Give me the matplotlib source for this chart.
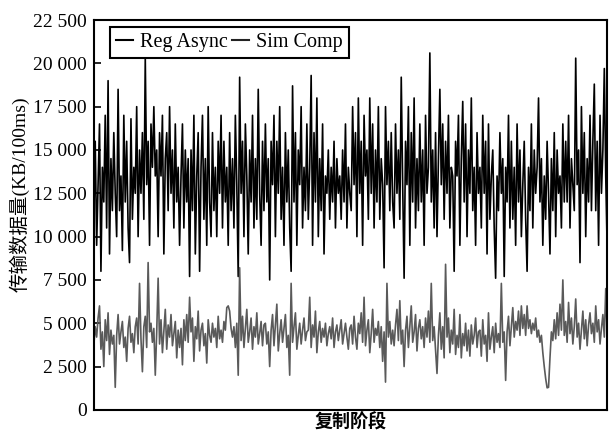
import matplotlib
matplotlib.use("Agg")
import matplotlib.pyplot as plt
from matplotlib.ticker import FuncFormatter
from matplotlib.lines import Line2D
import numpy as np

reg_async = [
    11000, 15500, 9500, 13000, 16500, 8000, 14000, 12000, 17000, 10500, 19000, 9000, 14500, 11500, 16000, 12500, 10000, 18500, 11500, 13500, 9200, 17000, 12000, 15500, 10500, 8500, 16800, 11000, 14000, 12500,
    17500, 10000, 15000, 12500, 16000, 11000, 20300, 13000, 15500, 9500, 16500, 14000, 17500, 13500, 15000, 10000, 16000, 13500, 17000, 9000, 14500, 16000, 11500, 17500, 12500, 15000, 10500, 16500, 12000, 14000,
    9500, 13500, 16500, 10500, 15000, 12000, 14500, 7700, 15000, 11500, 17000, 9000, 13500, 16000, 8000, 14000, 17000, 11000, 14500, 9500, 17500, 12000, 10000, 16000, 11500, 14000, 10000, 15500, 12500, 17000,
    10500, 15500, 12000, 14000, 9500, 16000, 11500, 14500, 10500, 17000, 13000, 7700, 19200, 12500, 15500, 10000, 16500, 13500, 9000, 15000, 12000, 17000, 10500, 14500, 11000, 18500, 12500, 9500, 15500, 11500,
    16500, 12000, 14500, 7500, 15500, 13000, 17000, 10000, 15500, 12500, 17500, 11000, 14000, 9500, 16000, 12000, 15000, 10500, 8000, 18700, 12000, 16000, 9500, 15000, 13000, 17500, 10500, 14000, 11500, 16500,
    11000, 14000, 19300, 9500, 16000, 12000, 18000, 10000, 14500, 11500, 16500, 9000, 13500, 12500, 15000, 11000, 14000, 12000, 15500, 10500, 14500, 12500, 13500, 11000, 15000, 12000, 16500, 10500, 14000, 12500,
    11500, 17500, 13000, 16000, 10000, 18000, 12500, 15500, 9500, 17000, 13500, 15000, 11000, 18000, 12500, 16500, 10500, 15000, 12000, 17500, 11000, 14500, 13000, 8200, 17500, 13000, 15500, 11500, 16000, 12000,
    10500, 16500, 12500, 15000, 11000, 19200, 13000, 7600, 15500, 13000, 17500, 9500, 16000, 12000, 18000, 10500, 14500, 11500, 16500, 12000, 15000, 9500, 17000, 12500, 14000, 20600, 12000, 15000, 10500, 16000,
    10000, 14500, 18500, 13000, 16500, 11000, 15500, 12500, 17000, 10500, 14000, 13500, 8000, 15500, 13500, 17000, 9500, 14500, 17800, 12000, 16500, 10000, 15000, 12500, 18000, 11500, 14000, 9500, 16000, 12500,
    14000, 10500, 17000, 12500, 15500, 9000, 16500, 11000, 13500, 15000, 10500, 7600, 13500, 11500, 16000, 12500, 14500, 7700, 14000, 12000, 17000, 10500, 15500, 11000, 14000, 9500, 16500, 12000, 15000, 10000,
    13000, 15500, 11000, 8000, 14000, 11500, 16500, 10500, 15000, 12500, 14000, 18000, 12000, 14500, 9500, 13500, 11000, 15500, 12500, 9000, 14500, 11500, 16000, 10000, 15000, 12500, 13500, 10500, 16500, 12000,
    15500, 12000, 17000, 10500, 14500, 13000, 11500, 20300, 13000, 15000, 8500, 17500, 12500, 16000, 10000, 14500, 12000, 17000, 11500, 15500, 18800, 11500, 15500, 9500, 17000, 12500, 15000, 19700, 13500, 9300,
]

sim_comp = [
    3700, 4800, 4200, 5300, 6000, 3500, 4500, 2500, 5200, 4000, 5600, 3200, 4600, 3800, 4300, 1300, 4300, 5500, 3800, 4500, 5100, 3600, 4200, 2800, 4700, 5400, 3900, 4400, 3300, 4800,
    5300, 3800, 7300, 4100, 2200, 4800, 5400, 3600, 8500, 4500, 5000, 3900, 4700, 2000, 4500, 7600, 3800, 5200, 3300, 4600, 5800, 3500, 4900, 4200, 5500, 3700, 4400, 5100, 3000, 4600,
    3600, 4700, 2600, 5200, 4000, 5500, 3900, 6500, 4500, 5300, 2800, 4800, 4100, 5700, 3400, 4600, 5000, 3700, 4400, 2700, 5200, 4300, 3900, 5000, 4200, 4700, 3600, 5400, 4100, 4600,
    3900, 5100, 4600, 5900, 6000, 5700, 4700, 4200, 4800, 3600, 5000, 2000, 8200, 4000, 5400, 3600, 4700, 5800, 3900, 4500, 5300, 3500, 4800, 4200, 5600, 3800, 4400, 5100, 3700, 4900,
    5000, 3800, 4500, 2500, 4600, 5500, 3700, 4900, 6100, 3400, 4400, 5200, 3900, 4700, 5500, 3600, 4300, 2000, 7300, 3900, 4800, 5600, 3500, 4300, 5000, 3800, 4600, 5300, 4000, 4500,
    4600, 6500, 3600, 4900, 4200, 5700, 3300, 4500, 5100, 3900, 4700, 4200, 5000, 3700, 4400, 4800, 4100, 5300, 3600, 4500, 4900, 4000, 4600, 5200, 3800, 4400, 5000, 4200, 3500, 4700,
    4900, 3800, 5400, 4200, 3500, 5000, 4400, 5600, 3900, 6500, 3700, 4600, 5200, 3300, 4400, 5800, 3900, 4700, 4300, 5100, 3600, 4800, 2800, 4500, 1600, 7300, 4200, 5100, 3800, 4600,
    3700, 4900, 5800, 4000, 6300, 3800, 4600, 2500, 4600, 5400, 3600, 4800, 6000, 3900, 4500, 5500, 3400, 4700, 5200, 4100, 4800, 3600, 5300, 4200, 5700, 3900, 7300, 4000, 4800, 3500,
    2100, 4300, 5600, 3500, 4800, 3000, 8400, 4200, 5300, 3300, 4600, 3800, 5800, 3200, 4300, 3600, 5500, 3000, 4400, 3700, 5000, 3400, 4600, 3100, 4900, 3800, 4300, 5300, 3600, 4500,
    4600, 3100, 5200, 3800, 4300, 2800, 5600, 3500, 4200, 4800, 3300, 5000, 3900, 4400, 3600, 7300, 3900, 4500, 1700, 4500, 5400, 3700, 4800, 5900, 4200, 5100, 4600, 5700, 4300, 6000,
    4700, 5500, 4300, 6000, 4700, 5200, 4400, 5000, 4600, 5300, 4200, 4600, 3900, 4300, 3300, 2500, 1800, 1270, 1300, 3000, 4500, 4000, 5200, 4100, 5600, 4300, 6100, 4600, 7500, 4300,
    5100, 3900, 6200, 4400, 5300, 3800, 4800, 6400, 4200, 5000, 3500, 4600, 5700, 4100, 5200, 3700, 4900, 5600, 4400, 5000, 3900, 6000, 4500, 5200, 3800, 4700, 5500, 4200, 7000, 4400,
]

series_labels = ["Reg Async", "Sim Comp"]
y_ticks = [0, 2500, 5000, 7500, 10000, 12500, 15000, 17500, 20000, 22500]

serif = ["Liberation Serif", "Noto Sans CJK SC"]
plt.rcParams["font.family"] = serif

fig = plt.figure(figsize=(6.09, 4.36), dpi=100)
ax = fig.add_axes([0.154, 0.06, 0.843, 0.894])

x = np.arange(len(reg_async))
ax.plot(x, reg_async, color="#000000", lw=1.2)
ax.plot(x, sim_comp, color="#5a5a5a", lw=1.2)

ax.set_xlim(0, len(reg_async) - 1)
ax.set_ylim(0, 22500)
ax.set_xticks([])
ax.set_yticks(y_ticks)
ax.yaxis.set_major_formatter(FuncFormatter(lambda v, p: f"{int(v):,}".replace(",", " ")))
ax.tick_params(axis="y", direction="in", length=5, width=1.2, labelsize=14, pad=5)
for s in ax.spines.values():
    s.set_linewidth(1.5)

ax.set_ylabel("传输数据量(KB/100ms)", fontsize=14, family=serif, labelpad=1)
ax.yaxis.set_label_coords(-0.124, 0.554)
ax.set_xlabel("复制阶段", fontsize=13, family=["Noto Sans CJK SC"], fontweight="bold", labelpad=2)

handles = [Line2D([], [], color="#000000", lw=1.5), Line2D([], [], color="#222222", lw=1.5)]
leg = ax.legend(handles, series_labels, loc="upper left", bbox_to_anchor=(0.031, 0.982), ncol=2,
                fancybox=False, edgecolor="black", fontsize=14.5, handlelength=0.85, handletextpad=0.35,
                columnspacing=0.2, borderaxespad=0, borderpad=0.3, framealpha=1)
leg.get_frame().set_linewidth(1.5)

fig.savefig("out.png", dpi=100)
